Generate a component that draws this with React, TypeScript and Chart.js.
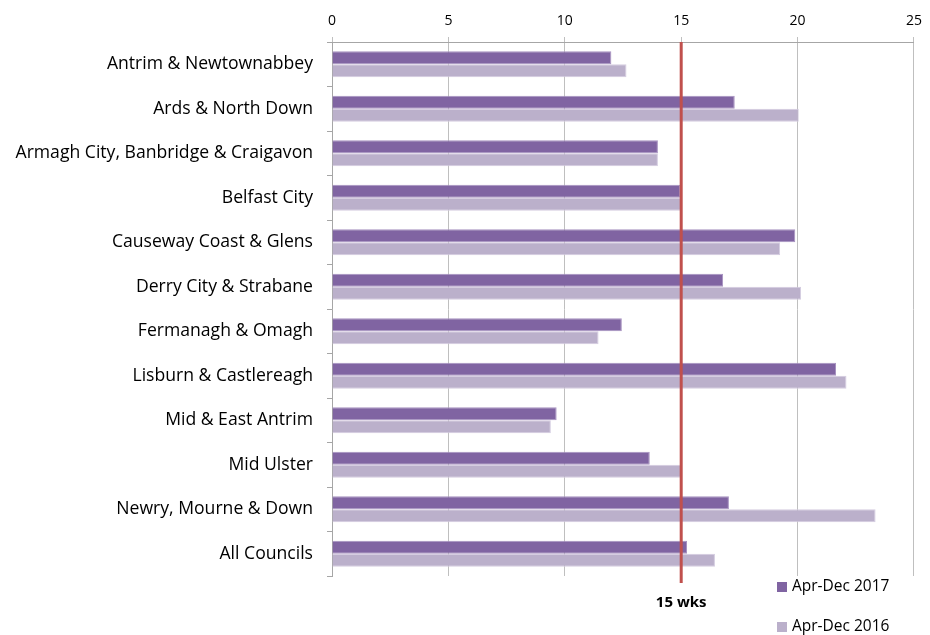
import React, { useEffect, useRef } from "react";
import { Chart, registerables } from "chart.js";

Chart.register(...registerables);

const categories = [
  "Antrim & Newtownabbey",
  "Ards & North Down",
  "Armagh City, Banbridge & Craigavon",
  "Belfast City",
  "Causeway Coast & Glens",
  "Derry City & Strabane",
  "Fermanagh & Omagh",
  "Lisburn & Castlereagh",
  "Mid & East Antrim",
  "Mid Ulster",
  "Newry, Mourne & Down",
  "All Councils",
];
const series2017 = [12.0, 17.3, 14.0, 14.95, 19.9, 16.8, 12.45, 21.65, 9.65, 13.65, 17.05, 15.25];
const series2016 = [12.65, 20.05, 14.0, 15.0, 19.25, 20.15, 11.45, 22.1, 9.4, 15.0, 23.35, 16.45];
const seriesNames = ["Apr-Dec 2017", "Apr-Dec 2016"];
const targetValue = 15;
const targetLabel = "15 wks";
const xTicks = [0, 5, 10, 15, 20, 25];

const C2017 = "#8064A2";
const C2016 = "#BBB0CB";
const FONT = "'Open Sans', sans-serif";

const overlayPlugin = {
  id: "overlay",
  afterDatasetsDraw(chart: any) {
    const ctx = chart.ctx;
    const xs = chart.scales.x;
    const area = chart.chartArea;
    const px = xs.getPixelForValue(targetValue);
    ctx.save();
    ctx.strokeStyle = "#C0504D";
    ctx.lineWidth = 3;
    ctx.beginPath();
    ctx.moveTo(px, area.top);
    ctx.lineTo(px, area.bottom + 7);
    ctx.stroke();
    ctx.fillStyle = "#000";
    ctx.font = `bold 15px ${FONT}`;
    ctx.textAlign = "center";
    ctx.textBaseline = "middle";
    ctx.fillText(targetLabel, px, area.bottom + 27);
    // legend
    const colors = [C2017, C2016];
    ctx.font = `15.5px ${FONT}`;
    ctx.textAlign = "left";
    seriesNames.forEach((name, i) => {
      const y = area.bottom + 11 + i * 40;
      ctx.fillStyle = colors[i];
      ctx.fillRect(777, y - 5, 10, 10);
      ctx.fillStyle = "#000";
      ctx.fillText(name, 792, y);
    });
    ctx.restore();
  },
};

export default function App() {
  const ref = useRef<HTMLCanvasElement | null>(null);
  useEffect(() => {
    if (!ref.current) return;
    const chart = new Chart(ref.current, {
      type: "bar",
      data: {
        labels: categories,
        datasets: [
          {
            label: seriesNames[0],
            data: series2017,
            backgroundColor: C2017,
            borderColor: "#A792C0",
            borderWidth: 1,
            barPercentage: 1,
            categoryPercentage: 0.58,
          },
          {
            label: seriesNames[1],
            data: series2016,
            backgroundColor: C2016,
            borderColor: "#D4CCE0",
            borderWidth: 1,
            barPercentage: 1,
            categoryPercentage: 0.58,
          },
        ],
      },
      options: {
        indexAxis: "y",
        animation: false,
        responsive: false,
        maintainAspectRatio: false,
        layout: { padding: { left: 0, right: 13, top: 0, bottom: 59 } },
        plugins: { legend: { display: false }, tooltip: { enabled: false } },
        scales: {
          x: {
            position: "top",
            min: 0,
            max: 25,
            afterBuildTicks: (s: any) => {
              s.ticks = xTicks.map((v) => ({ value: v }));
            },
            afterFit: (s: any) => {
              s.height = 42;
            },
            grid: {
              color: "#BFBFBF",
              lineWidth: 1,
              tickLength: 5,
              drawTicks: true,
            },
            border: { color: "#A6A6A6", width: 1 },
            ticks: {
              color: "#000",
              font: { family: FONT, size: 14 },
              padding: 8,
            },
          },
          y: {
            afterFit: (s: any) => {
              s.width = 332;
            },
            grid: {
              offset: true,
              drawOnChartArea: false,
              tickLength: 5,
              color: "#A6A6A6",
            },
            border: { color: "#A6A6A6", width: 1 },
            ticks: {
              color: "#000",
              font: { family: FONT, size: 17.6 },
              padding: 14,
            },
          },
        },
      },
      plugins: [overlayPlugin],
    } as any);
    return () => chart.destroy();
  }, []);
  return (
    <div style={{ position: "fixed", left: 0, top: 0, width: 930, height: 635, background: "#fff" }}>
      <canvas ref={ref} width={930} height={635} style={{ width: 930, height: 635 }} />
    </div>
  );
}
